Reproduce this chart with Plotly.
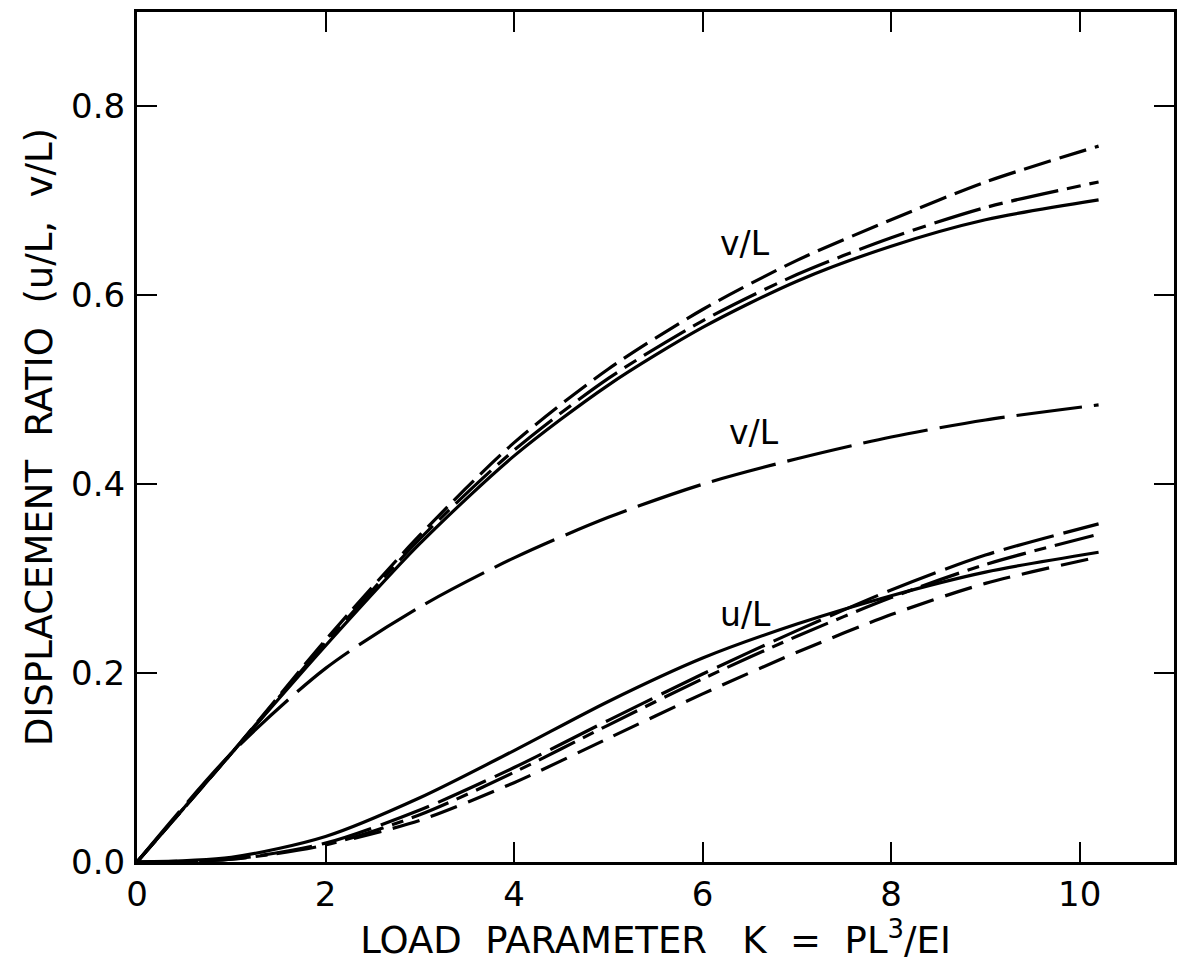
import plotly.graph_objects as go

# Load parameter K = PL^3/EI
k_vals = [0, 1, 2, 3, 4, 5, 6, 7, 8, 9, 10.2]

# Vertical displacement ratio v/L, upper family
v_long = [0, 0.115, 0.235, 0.346, 0.444, 0.522, 0.585, 0.637, 0.680, 0.720, 0.758]
v_dash = [0, 0.115, 0.232, 0.342, 0.436, 0.512, 0.573, 0.622, 0.661, 0.693, 0.720]
v_solid = [0, 0.115, 0.229, 0.337, 0.430, 0.505, 0.566, 0.615, 0.652, 0.680, 0.701]

# Vertical displacement ratio v/L, lower curve
v_low = [0, 0.115, 0.205, 0.270, 0.322, 0.365, 0.400, 0.427, 0.450, 0.468, 0.484]

# Horizontal displacement ratio u/L family
u_long = [0, 0.003, 0.020, 0.055, 0.100, 0.150, 0.199, 0.245, 0.288, 0.325, 0.358]
u_dash = [0, 0.003, 0.018, 0.050, 0.095, 0.145, 0.194, 0.239, 0.280, 0.315, 0.347]
u_solid = [0, 0.005, 0.027, 0.068, 0.118, 0.170, 0.216, 0.252, 0.282, 0.307, 0.328]
k_low = [2.3, 3, 4, 5, 6, 7, 8, 9, 10.2]
u_low = [0.025, 0.044, 0.084, 0.131, 0.178, 0.222, 0.262, 0.295, 0.323]

x_ticks = [0, 2, 4, 6, 8, 10]
x_tick_text = ["0", "2", "4", "6", "8", "10"]
y_ticks = [0.0, 0.2, 0.4, 0.6, 0.8]
y_tick_text = ["0.0", "0.2", "0.4", "0.6", "0.8"]

INK = "#000000"
FONT = "DejaVu Sans"

fig = go.Figure()


def curve(x, y, dash):
    fig.add_trace(go.Scatter(
        x=x, y=y, mode="lines",
        line=dict(color=INK, width=3.2, dash=dash, shape="spline", smoothing=0.8),
        showlegend=False, hoverinfo="skip",
    ))


curve(k_vals, v_long, "28px,9px")
curve(k_vals, v_dash, "48px,9px,14px,9px")
curve(k_vals, v_solid, "solid")
curve(k_vals, v_low, "66px,12px")
curve(k_vals, u_long, "52px,10px")
curve(k_vals, u_dash, "40px,9px,12px,9px")
curve(k_vals, u_solid, "solid")
curve(k_low, u_low, "28px,12px")

labels = [
    (6.45, 0.655, "v/L"),
    (6.55, 0.455, "v/L"),
    (6.45, 0.262, "u/L"),
]
for lx, ly, txt in labels:
    fig.add_annotation(x=lx, y=ly, text=txt, showarrow=False,
                       font=dict(family=FONT, size=33, color=INK))

axis_common = dict(
    showgrid=False, zeroline=False, showline=True, linecolor=INK, linewidth=3,
    mirror="ticks", ticks="inside", ticklen=20, tickwidth=2, tickcolor=INK,
    tickfont=dict(family=FONT, size=34, color=INK),
)

fig.update_xaxes(range=[0, 11], tickvals=x_ticks, ticktext=x_tick_text,
                 title=dict(text="LOAD  PARAMETER   K  =  PL<sup>3</sup>/EI",
                            font=dict(family=FONT, size=37, color=INK), standoff=10),
                 **axis_common)
fig.update_yaxes(range=[0, 0.9], tickvals=y_ticks, ticktext=y_tick_text,
                 ticklabelstandoff=2,
                 title=dict(text="DISPLACEMENT  RATIO  (u/L,  v/L)",
                            font=dict(family=FONT, size=37, color=INK), standoff=8),
                 **axis_common)

fig.update_layout(
    width=1183, height=969,
    margin=dict(l=137, r=6, t=12, b=107),
    paper_bgcolor="white", plot_bgcolor="white",
)

fig.write_html("out.html")
